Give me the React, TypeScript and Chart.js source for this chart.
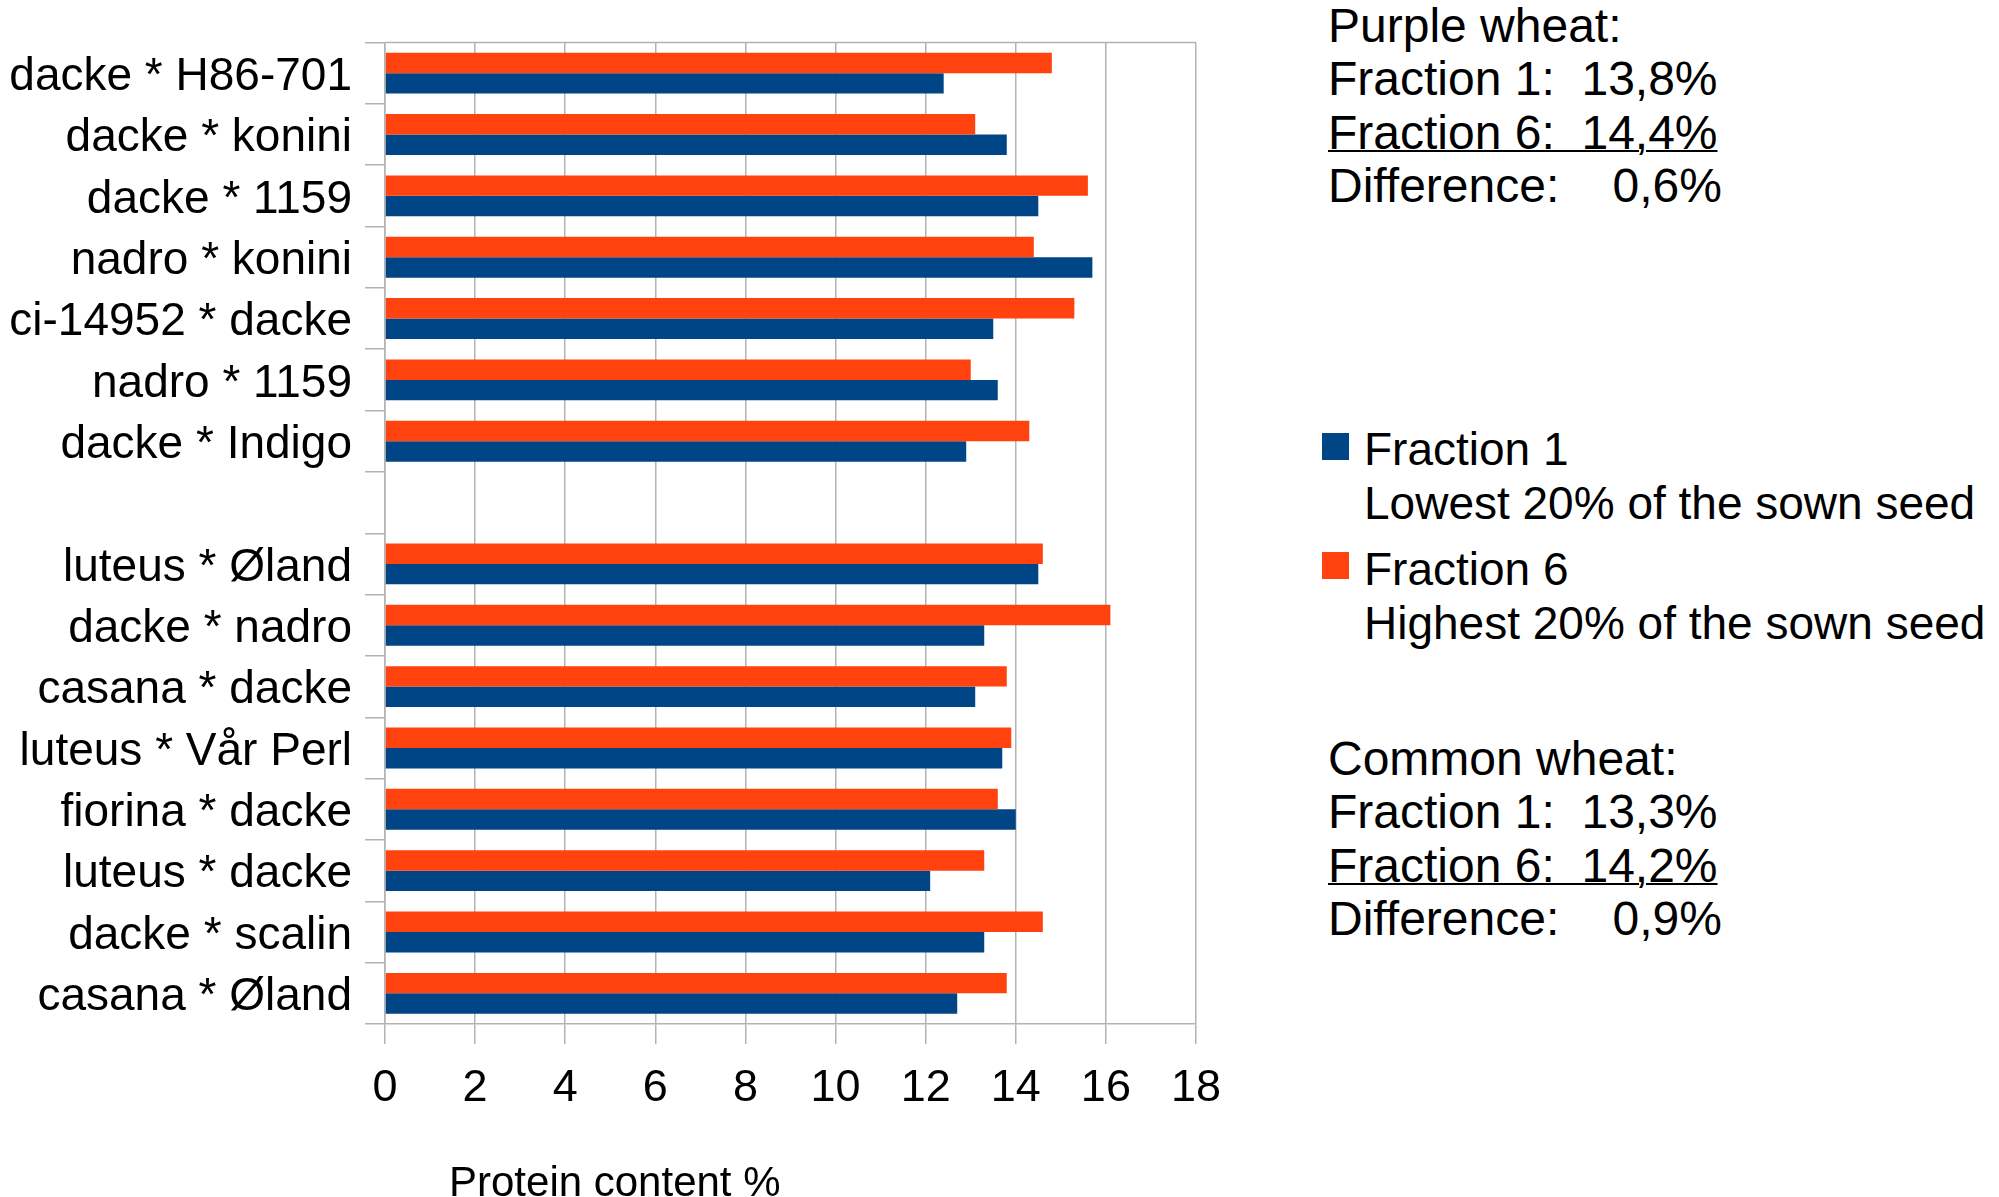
import React, { useEffect, useRef } from "react";
import { Chart, registerables } from "chart.js";

Chart.register(...registerables);

const categories = [
  "dacke * H86-701",
  "dacke * konini",
  "dacke * 1159",
  "nadro * konini",
  "ci-14952 * dacke",
  "nadro * 1159",
  "dacke * Indigo",
  "",
  "luteus * Øland",
  "dacke * nadro",
  "casana * dacke",
  "luteus * Vår Perl",
  "fiorina * dacke",
  "luteus * dacke",
  "dacke * scalin",
  "casana * Øland",
];

const fraction1 = [12.4, 13.8, 14.5, 15.7, 13.5, 13.6, 12.9, null, 14.5, 13.3, 13.1, 13.7, 14.0, 12.1, 13.3, 12.7];
const fraction6 = [14.8, 13.1, 15.6, 14.4, 15.3, 13.0, 14.3, null, 14.6, 16.1, 13.8, 13.9, 13.6, 13.3, 14.6, 13.8];

const seriesNames = ["Fraction 1", "Fraction 6"];
const seriesNotes = ["Lowest 20% of the sown seed", "Highest 20% of the sown seed"];
const seriesColors = ["#004586", "#ff420e"];

const xTitle = "Protein content %";
const xMin = 0;
const xMax = 18;
const xStep = 2;

const purpleLines = ["Purple wheat:", "Fraction 1:  13,8%", "Fraction 6:  14,4%", "Difference:    0,6%"];
const commonLines = ["Common wheat:", "Fraction 1:  13,3%", "Fraction 6:  14,2%", "Difference:    0,9%"];

const FONT = "'Liberation Sans', Arial, sans-serif";
const GRID = "#b3b3b3";

const frameTop = {
  id: "frameTop",
  beforeDatasetsDraw(chart: any) {
    const { ctx, chartArea } = chart;
    ctx.save();
    ctx.strokeStyle = GRID;
    ctx.lineWidth = 1.5;
    ctx.beginPath();
    ctx.moveTo(chartArea.left, chartArea.top);
    ctx.lineTo(chartArea.right, chartArea.top);
    ctx.stroke();
    ctx.restore();
  },
};

function TextBlock({ lines, top }: { lines: string[]; top: number }) {
  return (
    <div style={{ position: "absolute", left: 1328, top, fontFamily: FONT, fontSize: 48, lineHeight: "53.5px", color: "#000", whiteSpace: "pre" }}>
      {lines.map((l, i) => (
        <div key={i} style={{ textDecoration: i === 2 ? "underline" : "none", textDecorationThickness: 2, display: "table" }}>
          {l}
        </div>
      ))}
    </div>
  );
}

export default function App() {
  const ref = useRef<HTMLCanvasElement | null>(null);

  useEffect(() => {
    if (!ref.current) return;
    const chart = new Chart(ref.current, {
      type: "bar",
      data: {
        labels: categories,
        datasets: [
          { label: seriesNames[1], data: fraction6 as any, backgroundColor: seriesColors[1], borderWidth: 0, categoryPercentage: 2 / 3, barPercentage: 1 },
          { label: seriesNames[0], data: fraction1 as any, backgroundColor: seriesColors[0], borderWidth: 0, categoryPercentage: 2 / 3, barPercentage: 1 },
        ],
      },
      options: {
        indexAxis: "y",
        responsive: false,
        animation: false,
        layout: { padding: { left: 0, top: 42.5, right: 1300 - 1196, bottom: 43 } },
        plugins: { legend: { display: false }, tooltip: { enabled: false } },
        scales: {
          x: {
            min: xMin,
            max: xMax,
            ticks: { stepSize: xStep, color: "#000", font: { family: FONT, size: 45 }, padding: 18, maxRotation: 0 },
            grid: { color: GRID, lineWidth: 1.5, tickLength: 20, drawTicks: true },
            border: { color: GRID, width: 1.5 },
            afterFit: (s: any) => {
              s.height = 130;
            },
          },
          y: {
            ticks: { color: "#000", font: { family: FONT, size: 46 }, padding: 13, autoSkip: false, labelOffset: 4 },
            grid: { color: GRID, lineWidth: 1.5, tickLength: 20, drawOnChartArea: false, offset: true },
            border: { color: GRID, width: 1.5 },
            afterFit: (s: any) => {
              s.width = 385;
            },
          },
        },
      },
      plugins: [frameTop],
    } as any);
    return () => chart.destroy();
  }, []);

  return (
    <div style={{ position: "absolute", left: 0, top: 0, width: 1999, height: 1197, overflow: "hidden", background: "#fff" }}>
      <canvas ref={ref} width={1300} height={1197} style={{ position: "absolute", left: 0, top: 0, width: 1300, height: 1197 }} />
      <div style={{ position: "absolute", left: 449, top: 1161, fontFamily: FONT, fontSize: 42, lineHeight: "42px", color: "#000", whiteSpace: "pre" }}>
        {xTitle}
      </div>
      <TextBlock lines={purpleLines} top={-1.5} />
      {seriesNames.map((name, i) => (
        <React.Fragment key={name}>
          <div style={{ position: "absolute", left: 1322, top: i === 0 ? 433 : 552, width: 27, height: 27, background: seriesColors[i] }} />
          <div style={{ position: "absolute", left: 1364, top: (i === 0 ? 450 : 570) - 26.75, fontFamily: FONT, fontSize: 46, lineHeight: "53.5px", color: "#000", whiteSpace: "pre" }}>
            <div>{name}</div>
            <div>{seriesNotes[i]}</div>
          </div>
        </React.Fragment>
      ))}
      <TextBlock lines={commonLines} top={758.6 - 26.75} />
    </div>
  );
}
